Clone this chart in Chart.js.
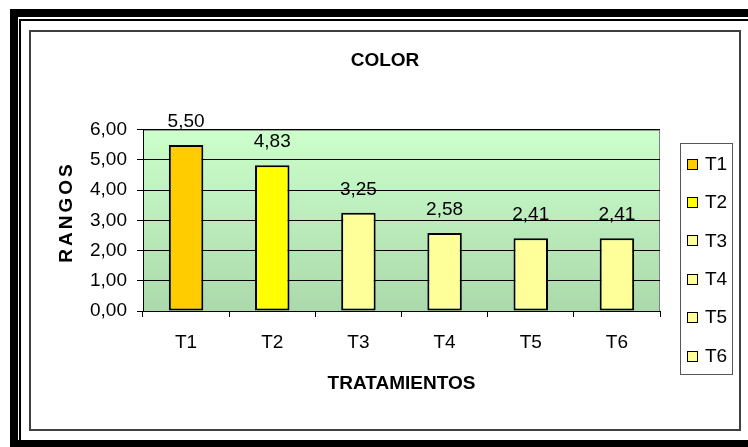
<!DOCTYPE html>
<html>
<head>
<meta charset="utf-8">
<script src="https://cdn.jsdelivr.net/npm/chart.js@4.4.1/dist/chart.umd.min.js"></script>
<style>
  body { margin: 0; background: #fff; }
  .bar { position: absolute; background: #000; }
  #box {
    position: absolute; left: 29px; top: 30px; width: 712px; height: 401px;
    box-sizing: border-box; border: 2px solid #404040;
  }
  #box canvas { position: absolute; left: 0; top: 0; }
</style>
</head>
<body>
<!-- outer frame -->
<div class="bar" style="left:10px;top:9px;width:738px;height:8px"></div>
<div class="bar" style="left:10px;top:9px;width:8px;height:438px"></div>
<div class="bar" style="left:10px;top:440px;width:738px;height:7px"></div>
<div class="bar" style="left:19px;top:19px;width:729px;height:2px"></div>
<div class="bar" style="left:19px;top:19px;width:2px;height:421px"></div>

<div id="box"><canvas id="chart" width="708" height="397"></canvas></div>

<script>
const categories = ["T1", "T2", "T3", "T4", "T5", "T6"];
const rangos = [5.50, 4.83, 3.25, 2.58, 2.41, 2.41];
const barColors = ["#FFCC00", "#FFFF00", "#FFFF99", "#FFFF99", "#FFFF99", "#FFFF99"];
const yTicks = [0, 1, 2, 3, 4, 5, 6];

const FONT = "'Liberation Sans', Arial, sans-serif";
Chart.defaults.font.family = FONT;
Chart.defaults.font.size = 19;
Chart.defaults.color = "#000";

const fmt = (v) => v.toFixed(2).replace(".", ",");

// green gradient plot background + grey frame
const plotBackground = {
  id: "plotBackground",
  beforeDraw(chart) {
    const { ctx, chartArea: a } = chart;
    const g = ctx.createLinearGradient(0, a.top, 0, a.bottom);
    g.addColorStop(0, "#CCFFCC");
    g.addColorStop(1, "#ABD9AB");
    ctx.save();
    ctx.fillStyle = g;
    ctx.fillRect(a.left, a.top, a.right - a.left, a.bottom - a.top);
    ctx.strokeStyle = "#808080";
    ctx.lineWidth = 1;
    ctx.strokeRect(a.left + 0.5, a.top + 0.5, a.right - a.left - 1, a.bottom - a.top);
    ctx.restore();
  },
};

// value labels above bars
const valueLabels = {
  id: "valueLabels",
  afterDatasetsDraw(chart) {
    const { ctx } = chart;
    const meta = chart.getDatasetMeta(0);
    ctx.save();
    ctx.font = "19px " + FONT;
    ctx.fillStyle = "#000";
    ctx.textAlign = "center";
    ctx.textBaseline = "alphabetic";
    meta.data.forEach((bar, i) => {
      ctx.fillText(fmt(rangos[i]), bar.x, bar.y - 18);
    });
    ctx.restore();
  },
};

// y title (letter spaced) and boxed legend
const extras = {
  id: "extras",
  afterDraw(chart) {
    const { ctx } = chart;
    ctx.save();
    ctx.translate(36, 180);
    ctx.rotate(-Math.PI / 2);
    ctx.font = "bold 19px " + FONT;
    ctx.letterSpacing = "3px";
    ctx.textAlign = "center";
    ctx.textBaseline = "middle";
    ctx.fillStyle = "#000";
    ctx.fillText("RANGOS", 0, 0);
    ctx.restore();

    ctx.save();
    ctx.strokeStyle = "#555";
    ctx.lineWidth = 1;
    ctx.strokeRect(649.5, 111.5, 52, 231);
    ctx.font = "19px " + FONT;
    ctx.textBaseline = "middle";
    categories.forEach((c, i) => {
      const y = 131.5 + i * 38.4;
      ctx.fillStyle = barColors[i];
      ctx.fillRect(656, Math.round(y - 5), 10, 10);
      ctx.strokeStyle = "#000";
      ctx.strokeRect(656.5, Math.round(y - 5) + 0.5, 10, 10);
      ctx.fillStyle = "#000";
      ctx.fillText(c, 674, y + 1);
    });
    ctx.restore();
  },
};

new Chart(document.getElementById("chart"), {
  type: "bar",
  data: {
    labels: categories,
    datasets: [
      {
        label: "RANGOS",
        data: rangos,
        backgroundColor: barColors,
        borderColor: "#000",
        borderWidth: 2,
        borderSkipped: false,
        barPercentage: 0.4,
        categoryPercentage: 1,
      },
    ],
  },
  options: {
    responsive: false,
    animation: false,
    layout: { padding: 0 },
    plugins: {
      legend: { display: false },
      tooltip: { enabled: false },
      title: {
        display: true,
        text: "COLOR",
        font: { size: 19, weight: "bold" },
        color: "#000",
        padding: { top: 17, bottom: 58 },
      },
    },
    scales: {
      x: {
        offset: true,
        grid: {
          offset: true,
          drawOnChartArea: false,
          drawTicks: true,
          tickLength: 6,
          color: "#000",
        },
        border: { color: "#000", width: 1 },
        ticks: { padding: 14, color: "#000" },
        title: {
          display: true,
          text: "TRATAMIENTOS",
          font: { size: 19, weight: "bold" },
          color: "#000",
          padding: { top: 34, bottom: 34 },
        },
        afterFit(scale) {
          scale.height = 118;
        },
      },
      y: {
        min: 0,
        max: 6,
        afterBuildTicks(scale) {
          scale.ticks = yTicks.map((v) => ({ value: v }));
        },
        grid: { color: "#000", tickLength: 6 },
        border: { color: "#000", width: 1 },
        ticks: {
          padding: 10,
          color: "#000",
          callback: (v) => fmt(v),
        },
        afterFit(scale) {
          scale.width = 112;
        },
      },
      // empty right-hand space that holds the legend box
      legendSpace: {
        type: "linear",
        position: "right",
        grid: { display: false },
        border: { display: false },
        ticks: { display: false },
        afterFit(scale) {
          scale.width = 79;
        },
      },
    },
  },
  plugins: [plotBackground, valueLabels, extras],
});
</script>
</body>
</html>
